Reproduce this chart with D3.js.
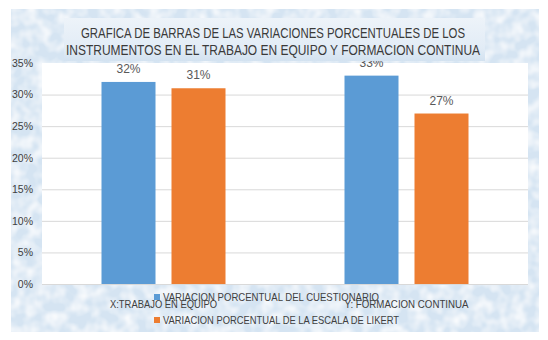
<!DOCTYPE html>
<html lang="es">
<head>
<meta charset="UTF-8">
<title>Grafica de barras</title>
<script src="https://d3js.org/d3.v7.min.js"></script>
<style>
    body { margin: 0; background: #fff; }
    svg text { font-family: "Liberation Sans", Arial, sans-serif; }
</style>
</head>
<body>
<div id="chart"></div>
<script>
    // datos del grafico
    const categories = ["X:TRABAJO EN EQUIPO", "Y: FORMACION CONTINUA"];
    const seriesNames = ["VARIACION PORCENTUAL DEL CUESTIONARIO", "VARIACION PORCENTUAL DE LA ESCALA DE LIKERT"];
    const cuestionario = [32, 33];
    const likert = [31, 27];
    const yTicks = [0, 5, 10, 15, 20, 25, 30, 35];
    const titleLines = ["GRAFICA DE BARRAS DE LAS VARIACIONES PORCENTUALES DE LOS",
                        "INSTRUMENTOS  EN EL TRABAJO EN EQUIPO Y FORMACION CONTINUA"];

    const colors = ["#5b9bd5", "#ed7d31"];
    const width = 548, height = 340;
    const plot = { left: 42, right: 528, top: 63, bottom: 284 };

    const svg = d3.select("#chart").append("svg")
        .attr("width", width).attr("height", height);

    const defs = svg.append("defs");
    const grad = defs.append("linearGradient").attr("id", "titleGrad")
        .attr("x1", 0).attr("y1", 0).attr("x2", 0).attr("y2", 1);
    grad.append("stop").attr("offset", "0%").attr("stop-color", "#edf3f9");
    grad.append("stop").attr("offset", "70%").attr("stop-color", "#e2ecf6");
    grad.append("stop").attr("offset", "100%").attr("stop-color", "#d3e2f0");

    // textura suave del fondo
    const filt = defs.append("filter").attr("id", "tex").attr("x", 0).attr("y", 0)
        .attr("width", 1).attr("height", 1);
    filt.append("feTurbulence").attr("type", "fractalNoise")
        .attr("baseFrequency", 0.08).attr("numOctaves", 2).attr("seed", 3).attr("result", "n");
    filt.append("feColorMatrix").attr("in", "n").attr("type", "matrix")
        .attr("values", "0 0 0 0 1  0 0 0 0 1  0 0 0 0 1  0 0 0 -1.6 1.05").attr("result", "w");
    filt.append("feComposite").attr("in", "w").attr("in2", "SourceGraphic").attr("operator", "over");

    // fondo del grafico
    svg.append("rect")
        .attr("x", 11).attr("y", 9).attr("width", 528).attr("height", 323)
        .attr("fill", "#d5e4f2")
        .attr("filter", "url(#tex)");

    // area de trazado
    svg.append("rect")
        .attr("x", plot.left).attr("y", plot.top)
        .attr("width", plot.right - plot.left).attr("height", plot.bottom - plot.top)
        .attr("fill", "#fff");

    const y = d3.scaleLinear().domain([0, 35]).range([plot.bottom, plot.top]);
    const x0 = d3.scaleBand().domain(categories).range([plot.left, plot.right])
        .paddingInner(0).paddingOuter(0);
    const x1 = d3.scaleBand().domain(seriesNames).range([0, x0.bandwidth()])
        .paddingInner(0.2286).paddingOuter(0.85);

    // lineas de cuadricula
    svg.append("g").selectAll("line")
        .data(yTicks.filter(d => d < 35))
        .enter().append("line")
        .attr("x1", plot.left).attr("x2", plot.right)
        .attr("y1", d => y(d) + 0.5).attr("y2", d => y(d) + 0.5)
        .attr("stroke", "#d9d9d9").attr("stroke-width", 1);

    // eje Y
    const yAxis = svg.append("g")
        .attr("transform", `translate(${plot.left - 9},0)`)
        .call(d3.axisLeft(y).tickValues(yTicks).tickFormat(d => d + "%").tickSize(0));
    yAxis.select(".domain").remove();
    yAxis.selectAll("text")
        .attr("fill", "#404040")
        .style("font-size", "10.5px")
        .attr("x", 0);

    // barras
    const rows = categories.map((c, i) => ({ cat: c, vals: [cuestionario[i], likert[i]] }));
    const groups = svg.append("g").selectAll("g")
        .data(rows)
        .enter().append("g")
        .attr("transform", d => `translate(${x0(d.cat)},0)`);

    groups.selectAll("rect")
        .data(d => d.vals.map((v, j) => ({ s: seriesNames[j], v: v, j: j })))
        .enter().append("rect")
        .attr("x", d => x1(d.s))
        .attr("width", x1.bandwidth())
        .attr("y", d => y(d.v))
        .attr("height", d => y(0) - y(d.v))
        .attr("fill", d => colors[d.j]);

    // etiquetas de datos
    groups.selectAll("text.lbl")
        .data(d => d.vals.map((v, j) => ({ s: seriesNames[j], v: v })))
        .enter().append("text")
        .attr("class", "lbl")
        .attr("x", d => x1(d.s) + x1.bandwidth() / 2)
        .attr("y", d => y(d.v) - 9)
        .attr("text-anchor", "middle")
        .attr("fill", "#595959")
        .style("font-size", "12px")
        .text(d => d.v + "%");

    // titulo (tapa parte de la etiqueta 33%)
    svg.append("rect")
        .attr("x", 64).attr("y", 18).attr("width", 421).attr("height", 43)
        .attr("fill", "url(#titleGrad)");
    const titleWidths = [384, 414];
    svg.append("g").selectAll("text")
        .data(titleLines)
        .enter().append("text")
        .attr("x", 273)
        .attr("y", (d, i) => 38 + i * 17)
        .attr("text-anchor", "middle")
        .attr("fill", "#3a3a3a")
        .attr("textLength", (d, i) => titleWidths[i])
        .attr("lengthAdjust", "spacingAndGlyphs")
        .style("font-size", "14.5px")
        .text(d => d);

    // etiquetas de categorias
    const catWidths = [107, 124];
    svg.append("g").selectAll("text")
        .data(categories)
        .enter().append("text")
        .attr("x", d => x0(d) + x0.bandwidth() / 2)
        .attr("y", 308)
        .attr("text-anchor", "middle")
        .attr("fill", "#404040")
        .attr("textLength", (d, i) => catWidths[i])
        .attr("lengthAdjust", "spacingAndGlyphs")
        .style("font-size", "11px")
        .text(d => d);

    // leyenda
    const legWidths = [216, 236];
    const leg = svg.append("g").selectAll("g")
        .data(seriesNames)
        .enter().append("g")
        .attr("transform", (d, i) => `translate(154,${294 + i * 23})`);
    leg.append("rect")
        .attr("width", 6).attr("height", 6)
        .attr("fill", (d, i) => colors[i]);
    leg.append("text")
        .attr("x", 9).attr("y", 7)
        .attr("fill", "#404040")
        .attr("textLength", (d, i) => legWidths[i])
        .attr("lengthAdjust", "spacingAndGlyphs")
        .style("font-size", "11px")
        .text(d => d);
</script>
</body>
</html>
